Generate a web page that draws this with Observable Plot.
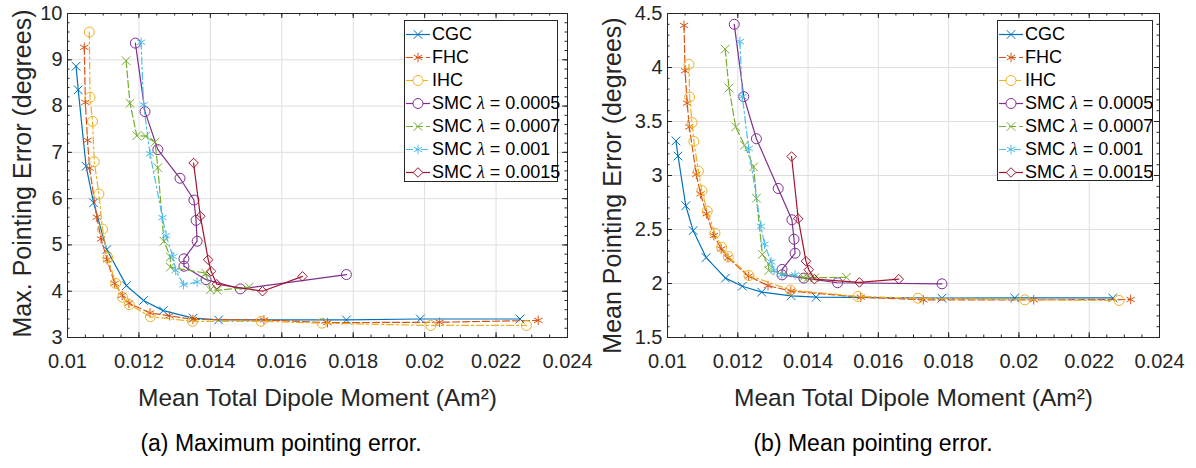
<!DOCTYPE html>
<html><head><meta charset="utf-8">
<script src="https://cdn.jsdelivr.net/npm/d3@7"></script>
<script src="https://cdn.jsdelivr.net/npm/@observablehq/plot@0.6"></script>
<style>
body{margin:0;background:#fff;}
#wrap{position:relative;width:1196px;height:468px;overflow:hidden;font-family:"Liberation Sans",Arial,sans-serif;background:#fff;}
.panel{position:absolute;top:0;width:598px;height:420px;}
.caption{position:absolute;font-size:23px;color:#000;white-space:nowrap;transform:translate(-50%,-50%);}
.legend{position:absolute;background:#fff;border:1px solid #262626;box-sizing:border-box;}
.lrow{position:absolute;left:0;height:23px;display:flex;align-items:center;font-size:18px;color:#000;white-space:nowrap;}
.lrow svg{display:block;}
.lam{font-family:"Liberation Serif","Times New Roman",serif;font-style:italic;}
</style>
</head><body><div id="wrap"></div>
<script>
// ---- data (x = mean total dipole moment, Am^2) ----
const cgcX   = [0.01024, 0.0103, 0.01052, 0.01073, 0.0111, 0.01165, 0.01213, 0.01268, 0.01352, 0.01423, 0.01781, 0.01988, 0.02267];
const cgcMax = [8.86, 8.35, 6.70, 5.91, 4.90, 4.12, 3.80, 3.58, 3.42, 3.38, 3.38, 3.40, 3.40];
const cgcMean= [3.32, 3.18, 2.72, 2.49, 2.24, 2.05, 1.975, 1.92, 1.886, 1.873, 1.864, 1.866, 1.866];

const fhcX   = [0.01047, 0.0105, 0.01056, 0.01062, 0.01082, 0.01094, 0.01111, 0.01132, 0.01153, 0.01172, 0.01231, 0.01286, 0.01351, 0.0155, 0.01728, 0.02042, 0.02318];
const fhcMax = [9.27, 8.08, 7.26, 6.66, 5.60, 5.13, 4.68, 4.17, 3.91, 3.74, 3.53, 3.47, 3.39, 3.38, 3.32, 3.33, 3.37];
const fhcMean= [4.39, 3.97, 3.67, 3.45, 3.01, 2.83, 2.645, 2.444, 2.32, 2.238, 2.067, 1.98, 1.93, 1.873, 1.849, 1.849, 1.852];

const ihcX   = [0.01061, 0.01063, 0.0107, 0.01075, 0.01088, 0.01098, 0.01113, 0.01135, 0.01154, 0.01173, 0.01232, 0.0135, 0.01542, 0.01713, 0.02017, 0.02285];
const ihcMax = [9.60, 8.19, 7.67, 6.80, 6.10, 5.34, 4.72, 4.17, 3.87, 3.71, 3.45, 3.35, 3.35, 3.31, 3.26, 3.26];
const ihcMean= [4.03, 3.725, 3.49, 3.315, 3.04, 2.86, 2.67, 2.466, 2.336, 2.25, 2.074, 1.94, 1.88, 1.864, 1.849, 1.843];

const smc5X   = [0.0119, 0.01217, 0.01253, 0.01315, 0.01354, 0.0136, 0.01363, 0.01326, 0.01326, 0.01388, 0.01484, 0.01781];
const smc5Max = [9.36, 7.88, 7.06, 6.44, 5.97, 5.53, 5.08, 4.70, 4.54, 4.25, 4.05, 4.36];
const smc5Mean= [4.40, 3.73, 3.34, 2.88, 2.59, 2.41, 2.28, 2.13, 2.08, 2.05, 2.007, 1.997];

const smc7X   = [0.01164, 0.01175, 0.01194, 0.01219, 0.01245, 0.01253, 0.0127, 0.01288, 0.01288, 0.01387, 0.014, 0.01419, 0.01509];
const smc7Max = [8.98, 8.06, 7.36, 7.35, 7.22, 6.67, 5.08, 4.74, 4.52, 4.39, 4.03, 4.02, 4.09];
const smc7Mean= [4.17, 3.81, 3.45, 3.28, 3.08, 2.79, 2.27, 2.18, 2.12, 2.058, 2.055, 2.053, 2.058];

const smc10X   = [0.01206, 0.01213, 0.01231, 0.01266, 0.01276, 0.01295, 0.01303, 0.01325, 0.01363];
const smc10Max = [9.38, 8.03, 6.97, 5.59, 5.20, 4.75, 4.45, 4.14, 4.20];
const smc10Mean= [4.24, 3.73, 3.25, 2.53, 2.365, 2.20, 2.12, 2.08, 2.08];

const smc15X   = [0.01353, 0.01372, 0.01394, 0.01402, 0.01418, 0.01546, 0.01658];
const smc15Max = [6.77, 5.62, 4.68, 4.43, 4.15, 4.00, 4.32];
const smc15Mean= [3.176, 2.60, 2.207, 2.127, 2.04, 2.01, 2.04];

const seriesNames = ["CGC", "FHC", "IHC", "SMC λ = 0.0005", "SMC λ = 0.0007", "SMC λ = 0.001", "SMC λ = 0.0015"];
const xTicks = [0.01, 0.012, 0.014, 0.016, 0.018, 0.02, 0.022, 0.024];
const yTicksA = [3, 4, 5, 6, 7, 8, 9, 10];
const yTicksB = [1.5, 2, 2.5, 3, 3.5, 4, 4.5];
const xLabel = "Mean Total Dipole Moment (Am²)";
const yLabelA = "Max. Pointing Error (degrees)";
const yLabelB = "Mean Pointing Error (degrees)";
const captionA = "(a) Maximum pointing error.";
const captionB = "(b) Mean pointing error.";

// ---- styles ----
const styles = [
  {color:"#0072BD", dash:null,      symbol:"times",    r:4},
  {color:"#D95319", dash:"7,3",     symbol:"asterisk", r:4.5},
  {color:"#EDB120", dash:"7,3,2,3", symbol:"circle",   r:5},
  {color:"#7E2F8E", dash:null,      symbol:"circle",   r:5},
  {color:"#77AC30", dash:"7,3",     symbol:"times",    r:4},
  {color:"#4DBEEE", dash:"7,3,2,3", symbol:"asterisk", r:4.5},
  {color:"#A2142F", dash:null,      symbol:"diamond2", r:4.3}
];
const xs = [cgcX, fhcX, ihcX, smc5X, smc7X, smc10X, smc15X];
const maxs = [cgcMax, fhcMax, ihcMax, smc5Max, smc7Max, smc10Max, smc15Max];
const means = [cgcMean, fhcMean, ihcMean, smc5Mean, smc7Mean, smc10Mean, smc15Mean];

function rows(ys){
  return seriesNames.map((name,i)=>xs[i].map((x,j)=>({series:name, x, y: ys[i][j]})));
}

const axisColor = "#262626";
const gridColor = "#dfdfdf";
const H = 420, MT = 13, MB = 83, FH = H - MT - MB;

function range(a,b,s){const out=[];const n=Math.round((b-a)/s);for(let i=0;i<=n;i++)out.push(+(a+i*s).toFixed(6));return out;}

const panels = [
  {ys: maxs, yDomain:[3,10], yTicks:yTicksA, yMinor:range(3,10,0.2), ylabel:yLabelA, caption:captionA,
   left:0, ml:67, mr:31, ylabDx:-45, ylabDy:-2, capX:281, legend:{x:404,y:20,w:154,h:162}},
  {ys: means, yDomain:[1.5,4.5], yTicks:yTicksB, yMinor:range(1.5,4.5,0.1), ylabel:yLabelB, caption:captionB,
   left:598, ml:69, mr:37, ylabDx:-55, ylabDy:10, capX:873, legend:{x:997,y:20,w:156,h:161}}
];
const xMinor = range(0.01, 0.024, 0.0005);
const fmtX = d => String(+d.toFixed(3));

const wrap = document.getElementById("wrap");

panels.forEach(p => {
  const data = rows(p.ys);
  const FW = 598 - p.ml - p.mr;
  const marks = [
    Plot.gridX(xTicks, {stroke: gridColor, strokeOpacity: 1}),
    Plot.gridY(p.yTicks, {stroke: gridColor, strokeOpacity: 1})
  ];
  data.forEach((d,i) => {
    const s = styles[i];
    marks.push(Plot.line(d, {x:"x", y:"y", stroke:s.color, strokeWidth:1.2, strokeDasharray:s.dash || undefined}));
    marks.push(Plot.dot(d, {x:"x", y:"y", stroke:s.color, symbol:s.symbol, r:s.r, strokeWidth:1, fill:"none"}));
  });
  // ticks (inward, box on)
  marks.push(
    Plot.ruleX(xMinor, {insetTop: FH - 2.5, stroke: axisColor}),
    Plot.ruleX(xMinor, {insetBottom: FH - 2.5, stroke: axisColor}),
    Plot.ruleX(xTicks, {insetTop: FH - 5, stroke: axisColor}),
    Plot.ruleX(xTicks, {insetBottom: FH - 5, stroke: axisColor}),
    Plot.ruleY(p.yMinor, {insetRight: FW - 2.5, stroke: axisColor}),
    Plot.ruleY(p.yMinor, {insetLeft: FW - 2.5, stroke: axisColor}),
    Plot.ruleY(p.yTicks, {insetRight: FW - 5, stroke: axisColor}),
    Plot.ruleY(p.yTicks, {insetLeft: FW - 5, stroke: axisColor}),
    Plot.frame({stroke: axisColor}),
    Plot.axisX(xTicks, {anchor:"bottom", tickSize:0, tickPadding:16, tickFormat: fmtX, label:null, fill: axisColor}),
    Plot.axisY(p.yTicks, {anchor:"left", tickSize:0, tickPadding:5, tickFormat: d => String(d), label:null, fill: axisColor}),
    Plot.text([xLabel], {text: d => d, frameAnchor:"bottom", textAnchor:"middle", lineAnchor:"middle", dy: 61, fontSize: 24.5, fill: axisColor}),
    Plot.text([p.ylabel], {text: d => d, frameAnchor:"left", textAnchor:"middle", lineAnchor:"middle", rotate:-90, dx: p.ylabDx, dy: p.ylabDy, fontSize: 25, fill: axisColor})
  );
  const chart = Plot.plot({
    width: 598, height: H,
    marginLeft: p.ml, marginRight: p.mr, marginTop: MT, marginBottom: MB,
    x: {domain:[0.01, 0.024], axis: null},
    y: {domain:p.yDomain, axis: null},
    style: {fontFamily:"'Liberation Sans', Arial, sans-serif", fontSize:"20px", color: axisColor, background:"white", overflow:"visible"},
    marks
  });
  const holder = document.createElement("div");
  holder.className = "panel";
  holder.style.left = p.left + "px";
  holder.appendChild(chart);
  wrap.appendChild(holder);

  // caption
  const cap = document.createElement("div");
  cap.className = "caption";
  cap.style.left = p.capX + "px";
  cap.style.top = "443px";
  cap.textContent = p.caption;
  wrap.appendChild(cap);

  // legend
  const L = p.legend;
  const lg = document.createElement("div");
  lg.className = "legend";
  Object.assign(lg.style, {left: L.x+"px", top: L.y+"px", width: L.w+"px", height: L.h+"px"});
  seriesNames.forEach((name,i) => {
    const s = styles[i];
    const row = document.createElement("div");
    row.className = "lrow";
    row.style.top = (2 + 23*i) + "px";
    const svg = d3.create("svg").attr("width", 27).attr("height", 23);
    svg.append("line").attr("x1",1).attr("x2",25).attr("y1",11.5).attr("y2",11.5)
      .attr("stroke", s.color).attr("stroke-width",1.2).attr("stroke-dasharray", s.dash);
    const symMap = {times:d3.symbolTimes, asterisk:d3.symbolAsterisk, circle:d3.symbolCircle, diamond2:d3.symbolDiamond2};
    svg.append("path").attr("d", d3.symbol(symMap[s.symbol], s.r*s.r*Math.PI)())
      .attr("transform","translate(13,11.5)").attr("fill","white").attr("stroke", s.color);
    row.appendChild(svg.node());
    const txt = document.createElement("span");
    if (name.includes("λ")) {
      const parts = name.split("λ");
      txt.append(parts[0]);
      const lam = document.createElement("span"); lam.className = "lam"; lam.textContent = "λ";
      txt.append(lam); txt.append(parts[1]);
    } else txt.textContent = name;
    row.appendChild(txt);
    lg.appendChild(row);
  });
  wrap.appendChild(lg);
});
</script>
</body></html>
